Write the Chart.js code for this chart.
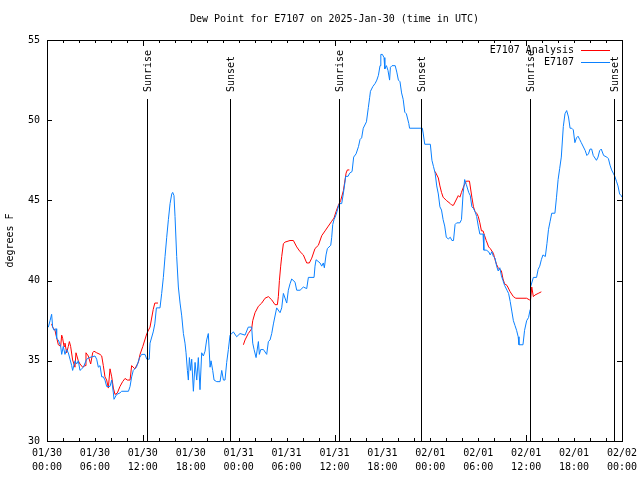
<!DOCTYPE html>
<html>
<head>
<meta charset="utf-8">
<script src="https://cdn.jsdelivr.net/npm/chart.js@4.4.1/dist/chart.umd.min.js"></script>
<style>
  body { margin: 0; background: #fff; }
  canvas { display: block; }
</style>
</head>
<body>
<canvas id="dew" width="640" height="480"></canvas>
<script>
// hours since 01/30 00:00 UTC
const obsHours = [0.05,0.17,0.38,0.58,0.71,0.88,1.13,1.21,1.42,1.71,1.84,2.04,2.25,2.46,2.67,2.88,3.09,3.21,3.51,3.71,3.92,4.13,4.34,4.55,4.97,5.3,6.01,6.22,6.43,6.64,6.85,7.05,7.26,7.47,7.89,8.1,8.31,8.39,8.72,9.14,9.35,10.2,10.4,10.6,10.8,11.2,11.6,11.85,12.27,12.5,12.8,12.9,13.3,13.5,13.7,14.15,14.36,14.57,14.78,14.99,15.2,15.41,15.62,15.74,15.9,16.03,16.24,16.45,16.66,16.87,17.08,17.28,17.41,17.58,17.7,17.83,17.99,18.12,18.33,18.54,18.75,18.95,19.16,19.37,19.58,19.79,19.99,20.2,20.42,20.54,20.75,20.92,21.25,21.67,21.88,22.09,22.29,22.5,22.71,22.92,23.34,23.75,24.17,24.8,25.2,25.63,25.76,25.93,26.18,26.47,26.59,26.76,27.1,27.51,27.72,27.93,28.14,28.35,28.76,29.18,29.39,29.6,30.02,30.22,30.43,30.64,31.06,31.27,31.69,32.1,32.52,32.73,33.44,33.56,33.69,34.19,34.4,34.6,34.73,34.94,35.11,35.53,35.65,35.78,35.94,36.19,36.6,36.9,37.1,37.3,37.4,37.7,37.9,38.2,38.4,38.7,39.0,39.2,39.4,39.6,39.8,40.0,40.24,40.4,40.5,40.8,41.1,41.3,41.5,41.7,41.8,42.0,42.2,42.3,42.5,42.7,42.9,43.0,43.2,43.6,43.8,44.0,44.2,44.4,44.6,44.8,45.0,45.3,45.4,47.0,47.1,47.3,48.0,48.2,48.4,48.6,48.8,49.0,49.2,49.4,49.6,49.8,50.0,50.25,50.5,50.7,50.9,51.1,51.3,51.7,51.9,52.1,52.3,52.5,52.8,53.0,53.2,53.4,53.6,53.8,54.0,54.2,54.6,54.7,55.0,55.3,55.5,55.7,55.9,56.1,56.3,56.5,56.7,56.9,57.1,57.3,57.6,57.8,58.0,58.2,58.4,58.6,58.8,59.0,59.1,59.6,59.8,60.06,60.3,60.5,60.55,60.9,61.3,61.5,61.7,61.9,62.1,62.4,62.6,62.8,63.0,63.2,63.6,63.8,64.0,64.2,64.4,64.65,64.86,65.07,65.3,65.5,65.7,65.9,66.1,66.3,66.5,66.7,66.9,67.4,67.6,67.8,68.0,68.2,68.4,68.8,69.0,69.2,69.4,69.7,70.1,70.3,70.5,70.7,70.9,71.1,71.3,71.5,71.7,71.9,72.0];
const obsDew = [37.2,37.1,37.5,37.9,37.1,36.9,37.0,36.4,36.3,35.9,35.4,35.9,35.4,35.7,35.5,35.1,34.7,34.4,35.0,34.8,35.0,34.4,34.5,34.6,35.1,35.2,35.3,35.1,34.6,34.7,34.0,34.0,33.8,33.4,33.4,33.8,33.0,32.6,32.9,33.0,33.1,33.1,33.4,34.0,34.4,34.6,35.2,35.4,35.4,35.1,35.1,36.1,36.8,37.3,38.3,38.3,39.2,40.2,41.5,42.7,43.8,44.8,45.4,45.5,45.3,44.0,41.5,39.6,38.6,37.8,36.7,36.1,35.5,34.4,33.8,35.2,34.4,35.1,33.1,34.9,33.8,35.2,33.2,35.5,35.3,35.6,36.3,36.7,34.6,35.0,34.4,33.8,33.7,33.7,34.4,33.8,33.8,34.9,35.7,36.6,36.8,36.5,36.7,36.6,37.1,37.1,36.1,35.7,35.2,36.2,35.4,35.7,35.7,35.4,36.2,36.3,36.7,37.3,38.3,38.0,38.3,39.2,38.6,39.4,39.8,40.1,39.9,39.4,39.4,39.6,39.5,40.2,40.2,40.9,41.3,41.1,40.9,41.1,40.8,41.6,42.0,42.2,42.7,43.5,43.8,44.1,44.8,44.8,45.4,46.1,46.5,46.5,46.7,46.8,47.7,47.9,48.35,48.8,48.9,49.5,49.7,49.9,50.8,51.4,51.8,52.1,52.3,52.5,52.8,53.4,54.1,54.1,53.9,53.2,53.4,53.1,52.5,53.3,53.4,53.4,53.0,52.5,52.4,51.7,51.3,50.5,50.4,49.8,49.5,49.5,49.2,48.5,48.5,47.5,47.1,46.7,45.9,45.4,44.6,44.4,43.8,43.4,42.7,42.6,42.7,42.5,42.5,43.5,43.6,43.6,43.8,45.4,46.3,46.0,45.5,45.3,44.6,44.5,44.3,44.0,43.4,42.9,42.9,41.9,41.9,41.8,41.6,41.8,41.5,41.4,40.9,40.6,40.8,40.3,40.0,39.7,39.4,39.2,38.7,38.1,37.5,37.2,36.9,36.5,36.0,36.0,36.9,37.5,37.7,38.2,39.6,40.2,40.2,40.7,40.9,41.3,41.6,41.5,42.3,43.2,43.7,44.2,44.2,45.2,46.3,47.0,47.7,49.6,50.4,50.6,50.2,49.5,49.5,49.4,48.6,48.9,49.0,48.8,48.6,48.1,47.8,47.9,48.2,48.2,47.8,47.5,47.7,48.1,48.2,47.8,47.7,47.6,47.2,46.9,46.7,46.5,46.2,45.9,45.4,45.3,45.2];

// analysis runs, null = gap between runs
const anaHours = [0.58,0.71,1.0,1.13,1.42,1.71,1.84,1.96,2.13,2.25,2.46,2.67,2.8,2.96,3.21,3.5,3.63,3.92,4.13,4.47,4.76,4.88,5.17,5.47,5.72,5.88,6.22,6.64,6.85,7.05,7.26,7.47,7.68,7.89,8.1,8.31,8.52,8.81,9.14,9.47,9.77,10.06,10.4,10.6,11.0,11.44,11.65,12.0,12.5,12.9,13.3,13.5,13.9,
  19.0,
  24.59,24.8,25.2,25.63,25.76,26.05,26.47,26.89,27.3,27.72,28.14,28.55,28.85,28.97,29.1,29.26,29.39,29.6,29.81,30.43,30.85,31.27,31.69,32.1,32.52,32.85,33.15,33.56,33.98,34.4,34.82,35.23,35.65,35.94,36.19,36.49,36.78,37.11,37.45,37.61,37.86,
  43.0,
  48.6,49.0,49.2,49.4,49.6,50.0,50.5,50.7,50.9,51.1,51.5,51.7,51.9,52.2,52.5,52.9,53.2,53.4,53.6,53.8,54.0,54.2,54.4,54.6,54.8,55.0,55.3,55.5,55.9,56.1,56.3,56.5,56.9,57.1,57.3,57.6,58.0,58.4,58.7,60.06,60.4,60.55,60.7,60.9,61.1,61.5,61.9];
const anaDew = [37.3,37.1,36.9,36.6,36.0,35.9,36.6,36.4,35.9,36.1,35.5,35.9,36.2,35.9,35.05,34.6,35.5,35.0,34.8,34.6,34.7,35.5,35.3,34.8,35.5,35.6,35.5,35.4,35.3,34.7,34.0,33.8,33.3,34.5,34.0,33.3,32.9,33.0,33.4,33.7,33.9,33.8,33.8,34.7,34.5,34.9,35.4,35.9,36.7,37.1,38.2,38.6,38.6,
  null,
  36.0,36.3,36.7,37.0,37.5,38.0,38.4,38.6,38.9,39.0,38.8,38.5,38.5,39.0,40.0,40.9,41.5,42.3,42.4,42.5,42.5,42.1,41.8,41.6,41.1,41.1,41.4,42.0,42.2,42.8,43.1,43.4,43.7,43.9,44.3,44.7,45.0,45.6,46.7,46.9,46.9,
  null,
  46.8,46.4,45.9,45.5,45.2,45.0,44.8,44.7,44.7,44.9,45.3,45.2,45.5,45.9,46.2,46.2,45.2,44.6,44.3,44.2,44.0,43.6,43.1,43.1,42.8,42.5,42.1,42.0,41.7,41.3,41.0,40.8,40.6,40.1,39.8,39.7,39.3,39.0,38.9,38.9,38.8,38.8,39.6,39.0,39.1,39.2,39.3];

const sunHours = [12.55, 22.95, 36.6, 46.85, 60.5, 70.95];
const sunNames = ['Sunrise', 'Sunset', 'Sunrise', 'Sunset', 'Sunrise', 'Sunset'];
const dayLabels = ['01/30', '01/30', '01/30', '01/30', '01/31', '01/31', '01/31', '01/31', '02/01', '02/01', '02/01', '02/01', '02/02'];
const timeLabels = ['00:00', '06:00', '12:00', '18:00'];

const FONT = '"DejaVu Sans Mono", "Liberation Mono", monospace';

function pts(xs, ys) {
  return xs.map((x, i) => ({ x: x, y: ys[i] }));
}

// title, legend, sun lines and inward tics, gnuplot style
const decor = {
  id: 'decor',
  afterDatasetsDraw(chart) {
    const ctx = chart.ctx;
    const a = chart.chartArea;
    const xs = chart.scales.x;
    const ys = chart.scales.y;
    ctx.save();
    ctx.fillStyle = '#000';
    ctx.font = '10px ' + FONT;

    ctx.textAlign = 'center';
    ctx.textBaseline = 'middle';
    ctx.fillText('Dew Point for E7107 on 2025-Jan-30 (time in UTC)', (a.left + a.right) / 2, 19);

    // sunrise / sunset
    ctx.strokeStyle = '#000';
    ctx.lineWidth = 1;
    sunHours.forEach((h, i) => {
      const px = Math.round(xs.getPixelForValue(h)) + 0.5;
      ctx.beginPath();
      ctx.moveTo(px, 99);
      ctx.lineTo(px, a.bottom);
      ctx.stroke();
      ctx.save();
      ctx.translate(px + 1, 92);
      ctx.rotate(-Math.PI / 2);
      ctx.textAlign = 'left';
      ctx.textBaseline = 'middle';
      ctx.fillText(sunNames[i], 0, 0);
      ctx.restore();
    });

    // tics
    ctx.beginPath();
    for (let h = 2; h < 72; h += 2) {
      const px = Math.round(xs.getPixelForValue(h)) + 0.5;
      const len = (h % 24 === 12) ? 6 : 3;
      ctx.moveTo(px, a.bottom); ctx.lineTo(px, a.bottom - len);
      ctx.moveTo(px, a.top); ctx.lineTo(px, a.top + len);
    }
    for (let v = 35; v < 55; v += 5) {
      const py = Math.round(ys.getPixelForValue(v)) + 0.5;
      ctx.moveTo(a.left, py); ctx.lineTo(a.left + 5, py);
      ctx.moveTo(a.right, py); ctx.lineTo(a.right - 5, py);
    }
    ctx.stroke();
    ctx.strokeRect(Math.round(a.left) + 0.5, Math.round(a.top) + 0.5,
      Math.round(a.right - a.left), Math.round(a.bottom - a.top));

    // legend
    ctx.textAlign = 'right';
    chart.data.datasets.forEach((ds, i) => {
      const y = 50 + i * 12;
      ctx.fillStyle = '#000';
      ctx.fillText(ds.label, 574, y);
      ctx.strokeStyle = ds.borderColor;
      ctx.beginPath();
      ctx.moveTo(581, y + 0.5);
      ctx.lineTo(610, y + 0.5);
      ctx.stroke();
    });
    ctx.restore();
  }
};

new Chart(document.getElementById('dew').getContext('2d'), {
  type: 'line',
  data: {
    datasets: [
      {
        label: 'E7107 Analysis',
        data: pts(anaHours, anaDew),
        borderColor: '#ff0000',
        borderWidth: 1,
        pointRadius: 0,
        tension: 0,
        spanGaps: false,
        order: 2
      },
      {
        label: 'E7107',
        data: pts(obsHours, obsDew),
        borderColor: '#0a80ff',
        borderWidth: 1,
        pointRadius: 0,
        tension: 0,
        order: 1
      }
    ]
  },
  options: {
    responsive: false,
    animation: false,
    layout: { padding: { top: 40, right: 18, left: 0, bottom: 0 } },
    plugins: {
      legend: { display: false },
      title: { display: false },
      tooltip: { enabled: false }
    },
    scales: {
      x: {
        type: 'linear',
        min: 0,
        max: 72,
        grid: { display: false, drawTicks: false },
        border: { display: false },
        afterFit: s => { s.height = 39; s.paddingLeft = 0; s.paddingRight = 0; },
        ticks: {
          stepSize: 6,
          autoSkip: false,
          maxRotation: 0,
          padding: 5,
          color: '#000',
          font: { family: FONT, size: 10, lineHeight: 1.4 },
          callback: (v, i) => [dayLabels[i], timeLabels[i % 4]]
        }
      },
      y: {
        min: 30,
        max: 55,
        grid: { display: false, drawTicks: false },
        border: { display: false },
        afterFit: s => { s.width = 47; },
        title: {
          display: true,
          text: 'degrees F',
          color: '#000',
          font: { family: FONT, size: 10 },
          padding: { top: 4, bottom: 0 }
        },
        ticks: {
          stepSize: 5,
          padding: 7,
          color: '#000',
          font: { family: FONT, size: 10 }
        }
      }
    }
  },
  plugins: [decor]
});
</script>
</body>
</html>
